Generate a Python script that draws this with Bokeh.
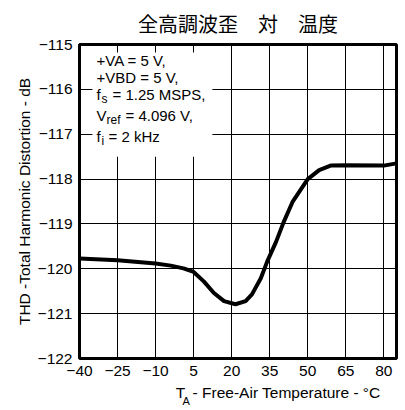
from bokeh.plotting import figure
from bokeh.layouts import column
from bokeh.models import FixedTicker, Label, BoxAnnotation, Range1d
from bokeh.embed import file_html
from bokeh.resources import INLINE

# THD versus free-air temperature
temp_c = [-40, -25, -10, -4, 1, 5, 9, 13, 17, 21.5, 25.5, 28, 31.5, 34,
          37.5, 40.5, 44, 50, 54.5, 59, 65, 80, 85]
thd_db = [-119.77, -119.81, -119.88, -119.93, -119.99, -120.07, -120.28,
          -120.54, -120.72, -120.79, -120.72, -120.57, -120.21, -119.84,
          -119.40, -118.96, -118.51, -118.00, -117.80, -117.70, -117.69,
          -117.70, -117.65]

x_ticks = [-40, -25, -10, 5, 20, 35, 50, 65, 80]
y_ticks = [-122, -121, -120, -119, -118, -117, -116, -115]

title_text = "全高調波歪　対　温度"
y_label_text = "THD -Total Harmonic Distortion - dB"

LATIN = "Liberation Sans"
CJK = "Noto Sans CJK JP"


def minus(v):
    return ("\u2212" + str(abs(v))) if v < 0 else str(v)


p = figure(width=405, height=384, output_backend="svg", toolbar_location=None,
           x_range=Range1d(-40, 85), y_range=Range1d(-122, -115),
           min_border_left=79, min_border_right=9, min_border_top=42,
           min_border_bottom=26, background_fill_color="white",
           border_fill_color="white")

p.title.text = title_text
p.title.align = "center"
p.title.text_font = CJK
p.title.text_font_size = "20px"
p.title.text_font_style = "normal"
p.title.text_color = "black"
p.title.standoff = 13

p.outline_line_color = "black"
p.outline_line_width = 3
p.outline_line_alpha = 1

for ax, ticks in ((p.xaxis[0], x_ticks), (p.yaxis[0], y_ticks)):
    ax.ticker = FixedTicker(ticks=ticks)
    ax.major_label_overrides = {t: minus(t) for t in ticks}
    ax.axis_line_color = None
    ax.major_tick_line_color = None
    ax.minor_tick_line_color = None
    ax.major_tick_out = 0
    ax.major_tick_in = 0
    ax.major_label_text_font = LATIN
    ax.major_label_text_font_size = "15.5px"
    ax.major_label_text_color = "black"
p.xaxis.major_label_standoff = 7
p.yaxis.major_label_standoff = 7

p.yaxis.axis_label = y_label_text
p.yaxis.axis_label_text_font = LATIN
p.yaxis.axis_label_text_font_size = "15.5px"
p.yaxis.axis_label_text_font_style = "normal"
p.yaxis.axis_label_text_color = "black"
p.yaxis.axis_label_standoff = 2

p.xgrid.ticker = FixedTicker(ticks=x_ticks)
p.ygrid.ticker = FixedTicker(ticks=y_ticks)
for g in (p.xgrid[0], p.ygrid[0]):
    g.grid_line_color = "black"
    g.grid_line_width = 1
    g.grid_line_alpha = 1

# white panel behind the operating conditions
p.add_layout(BoxAnnotation(left=-34.9, right=12.4, top=-115.18, bottom=-117.5,
                           fill_color="white", fill_alpha=1, line_color=None,
                           level="underlay"))

p.line(temp_c, thd_db, line_color="black", line_width=4,
       line_join="round", line_cap="round")


def put(fig, text, x, y, size="15px", dx=0, dy=0):
    fig.add_layout(Label(x=x, y=y, text=text, x_offset=dx, y_offset=dy,
                         text_font=LATIN, text_font_size=size,
                         text_color="black"))


# operating conditions
cx = -33.3
put(p, "+VA = 5 V,", cx, -115.547)
put(p, "+VBD = 5 V,", cx, -115.924)
put(p, "f", cx, -116.307)
put(p, "s", cx, -116.307, size="12px", dx=5, dy=-3)
put(p, "= 1.25 MSPS,", cx, -116.307, dx=16)
put(p, "V", cx, -116.78)
put(p, "ref", cx, -116.78, size="12px", dx=10, dy=-3)
put(p, "= 4.096 V,", cx, -116.78, dx=29)
put(p, "f", cx, -117.235)
put(p, "i", cx, -117.235, size="12px", dx=5, dy=-3)
put(p, "= 2 kHz", cx, -117.235, dx=12)

# strip under the chart carrying the x axis title (T with subscript A)
xt = figure(width=405, height=26, output_backend="svg", toolbar_location=None,
            x_range=Range1d(0, 405), y_range=Range1d(26, 0),
            x_axis_type=None, y_axis_type=None,
            min_border_left=0, min_border_right=0, min_border_top=0,
            min_border_bottom=0, background_fill_color="white",
            border_fill_color="white")
xt.outline_line_color = None
xt.xgrid.visible = False
xt.ygrid.visible = False
put(xt, "T", 123, 16, size="15.5px")
put(xt, "A", 131.5, 22, size="11px")
put(xt, "- Free-Air Temperature - \u00b0C", 144.5, 16, size="15.5px")

open("out.html", "w").write(file_html(column(p, xt, spacing=0), INLINE))
